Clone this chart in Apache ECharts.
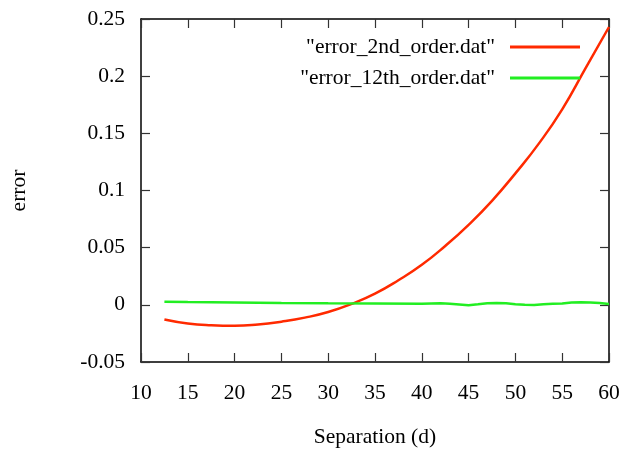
<!DOCTYPE html>
<html>
<head>
<meta charset="utf-8">
<script src="https://cdn.jsdelivr.net/npm/echarts@6/dist/echarts.min.js"></script>
<style>
  html, body { margin: 0; padding: 0; background: #fff; }
  #chart { width: 623px; height: 453px; }
</style>
</head>
<body>
<div id="chart"></div>
<script>
// separation values and errors
var sep2nd = [12.5, 15, 17.5, 20, 22.5, 25, 27.5, 30, 32.5, 35, 37.5, 40, 42.5, 45, 47.5, 50, 52.5, 55, 57.5, 60];
var err2nd = [-0.0128, -0.0163, -0.0179, -0.0184, -0.0172, -0.0147, -0.0112, -0.0063, 0.0008, 0.0098, 0.0215, 0.0350, 0.0515, 0.0700, 0.0910, 0.1150, 0.1410, 0.1710, 0.2070, 0.2430];

var sep12th = [12.5, 15, 20, 25, 30, 35, 40, 42, 43, 45, 46, 47, 48, 49, 50, 51, 52, 53, 54, 55, 56, 57, 58, 59, 60];
var err12th = [0.0027, 0.0024, 0.0020, 0.0016, 0.0013, 0.0012, 0.0010, 0.0013, 0.0009, -0.0003, 0.0005, 0.0014, 0.0016, 0.0013, 0.0006, 0.0000, -0.0001, 0.0005, 0.0009, 0.0012, 0.0020, 0.0022, 0.0021, 0.0017, 0.0008];

var seriesNames = ['"error_2nd_order.dat"', '"error_12th_order.dat"'];
var seriesColors = ['#ff2a00', '#22ee22'];

function pairs(xs, ys) {
  return xs.map(function (x, i) { return [x, ys[i]]; });
}

var font = 'Liberation Serif';
var myChart = echarts.init(document.getElementById('chart'));

var xBase = {
  type: 'value', min: 10, max: 60, interval: 5,
  axisLine: { show: true, onZero: false, lineStyle: { color: '#000', width: 1.5 } },
  axisTick: { show: true, inside: true, length: 9, lineStyle: { color: '#333', width: 1.2 } },
  splitLine: { show: false }
};
var yBase = {
  type: 'value', min: -0.05, max: 0.25, interval: 0.05,
  axisLine: { show: true, onZero: false, lineStyle: { color: '#000', width: 1.5 } },
  axisTick: { show: true, inside: true, length: 9, lineStyle: { color: '#333', width: 1.2 } },
  splitLine: { show: false }
};

var option = {
  animation: false,
  backgroundColor: '#fff',
  grid: { left: 137, right: 14, top: 19, bottom: 88 },
  legend: {
    orient: 'vertical',
    right: 38,
    top: 30,
    align: 'right',
    itemWidth: 70,
    itemHeight: 3,
    itemGap: 7,
    icon: 'rect',
    textStyle: { fontFamily: font, fontSize: 21.5, color: '#000', padding: [0, 10, 0, 0], lineHeight: 24 },
    data: seriesNames
  },
  xAxis: [
    Object.assign({}, xBase, {
      position: 'bottom',
      name: 'Separation (d)',
      nameLocation: 'middle',
      nameGap: 64,
      nameTextStyle: { fontFamily: font, fontSize: 21.5, color: '#000' },
      axisLabel: { fontFamily: font, fontSize: 21.5, color: '#000', margin: 20 }
    }),
    Object.assign({}, xBase, { position: 'top', axisLabel: { show: false } })
  ],
  yAxis: [
    Object.assign({}, yBase, {
      position: 'left',
      name: 'error',
      nameLocation: 'middle',
      nameRotate: 90,
      nameGap: 111,
      nameTextStyle: { fontFamily: font, fontSize: 21.5, color: '#000' },
      axisLabel: {
        fontFamily: font, fontSize: 21.5, color: '#000', margin: 16,
        formatter: function (v) { return String(Math.round(v * 100) / 100); }
      }
    }),
    Object.assign({}, yBase, { position: 'right', axisLabel: { show: false } })
  ],
  series: [
    {
      name: seriesNames[0], type: 'line', showSymbol: false, symbol: 'none', smooth: true,
      lineStyle: { color: seriesColors[0], width: 2.5 }, itemStyle: { color: seriesColors[0] },
      data: pairs(sep2nd, err2nd)
    },
    {
      name: seriesNames[1], type: 'line', showSymbol: false, symbol: 'none',
      lineStyle: { color: seriesColors[1], width: 2.5 }, itemStyle: { color: seriesColors[1] },
      data: pairs(sep12th, err12th)
    }
  ]
};

myChart.setOption(option);
</script>
</body>
</html>
